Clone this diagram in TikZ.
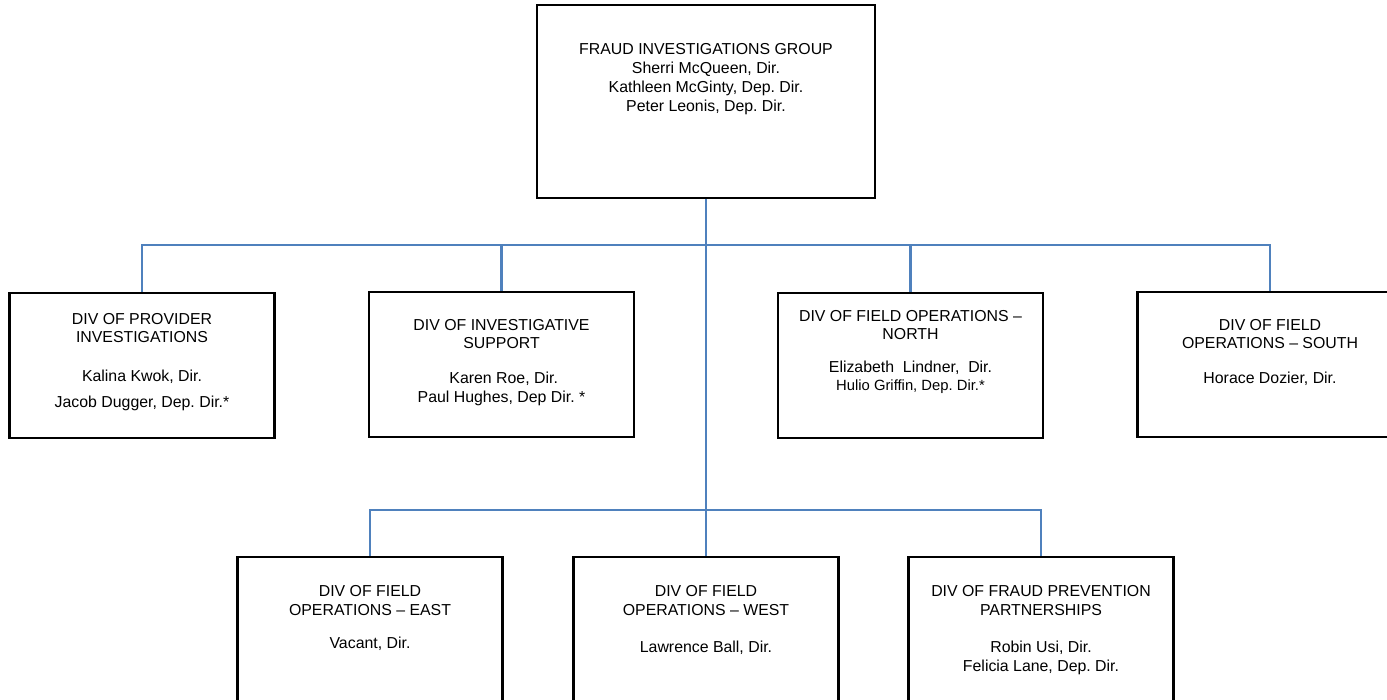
\documentclass[tikz,border=0pt]{standalone}
\usepackage{fontspec}
\setmainfont{Liberation Sans}
\frenchspacing
\definecolor{conblue}{HTML}{4F81BD}
\tikzset{
  orgbox/.style={draw=black, line width=2.1pt, fill=none, inner sep=0pt, minimum height=108.75pt, minimum width=198.75pt},
  txt/.style={anchor=north, inner sep=0pt, align=center, font=\fontsize{11.9pt}{13.9pt}\selectfont},
  conn/.style={draw=conblue, line width=2.2pt}
}
\begin{document}
\begin{tikzpicture}[x=0.75pt, y=-0.75pt]
\useasboundingbox (0,0) rectangle (1387,699);
% boxes
\node[orgbox, minimum width=253.5pt, minimum height=144.75pt] (top) at (706,101.5) {};
\node[orgbox] (b1) at (142,365.5) {};
\node[orgbox] (b2) at (501.5,364.5) {};
\node[orgbox] (b3) at (910.5,365.5) {};
\node[orgbox] (b4) at (1270,364.5) {};
\node[orgbox] (b5) at (370,629.5) {};
\node[orgbox] (b6) at (706,629.5) {};
\node[orgbox] (b7) at (1041,629.5) {};
% texts
\node[txt] (t0) at ([yshift=-29.5pt]top.north) {FRAUD INVESTIGATIONS GROUP\\[0.4pt]Sherri McQueen, Dir.\\[0.4pt]Kathleen McGinty, Dep. Dir.\\[0.4pt]Peter Leonis, Dep. Dir.};
\node[txt] (t1) at ([yshift=-16pt]b1.north) {DIV OF PROVIDER\\INVESTIGATIONS\\[15.4pt]Kalina Kwok, Dir.\\[5.6pt]Jacob Dugger, Dep. Dir.*};
\node[txt] (t2) at ([yshift=-21.3pt]b2.north) {DIV OF INVESTIGATIVE\\SUPPORT\\[12.4pt]\ Karen Roe, Dir.\\Paul Hughes, Dep Dir. *};
\node[txt] (t3) at ([yshift=-13.8pt]b3.north) {DIV OF FIELD OPERATIONS --\\NORTH\\[10.9pt]Elizabeth\ \ Lindner,\ \ Dir.\\[-1pt]{\fontsize{11.1pt}{12.5pt}\selectfont Hulio Griffin, Dep. Dir.*}};
\node[txt] (t4) at ([yshift=-21.3pt]b4.north) {DIV OF FIELD\\OPERATIONS -- SOUTH\\[12.4pt]Horace Dozier, Dir.};
\node[txt] (t5) at ([yshift=-22.5pt]b5.north) {DIV OF FIELD\\OPERATIONS -- EAST\\[11pt]Vacant, Dir.};
\node[txt] (t6) at ([yshift=-22.5pt]b6.north) {DIV OF FIELD\\OPERATIONS -- WEST\\[14pt]Lawrence Ball, Dir.};
\node[txt] (t7) at ([yshift=-22.5pt]b7.north) {DIV OF FRAUD PREVENTION\\PARTNERSHIPS\\[14pt]Robin Usi, Dir.\\Felicia Lane, Dep. Dir.};
% connectors
\coordinate (bus1) at (706,245);
\coordinate (bus2) at (706,510);
\draw[conn] (top.south) -- (b6.north);
\draw[conn] (b1.north) |- (bus1) -| (b4.north);
\draw[conn] (b2.north) -- (b2.north |- bus1);
\draw[conn] (b3.north) -- (b3.north |- bus1);
\draw[conn] (b5.north) |- (bus2) -| (b7.north);
\end{tikzpicture}
\end{document}
